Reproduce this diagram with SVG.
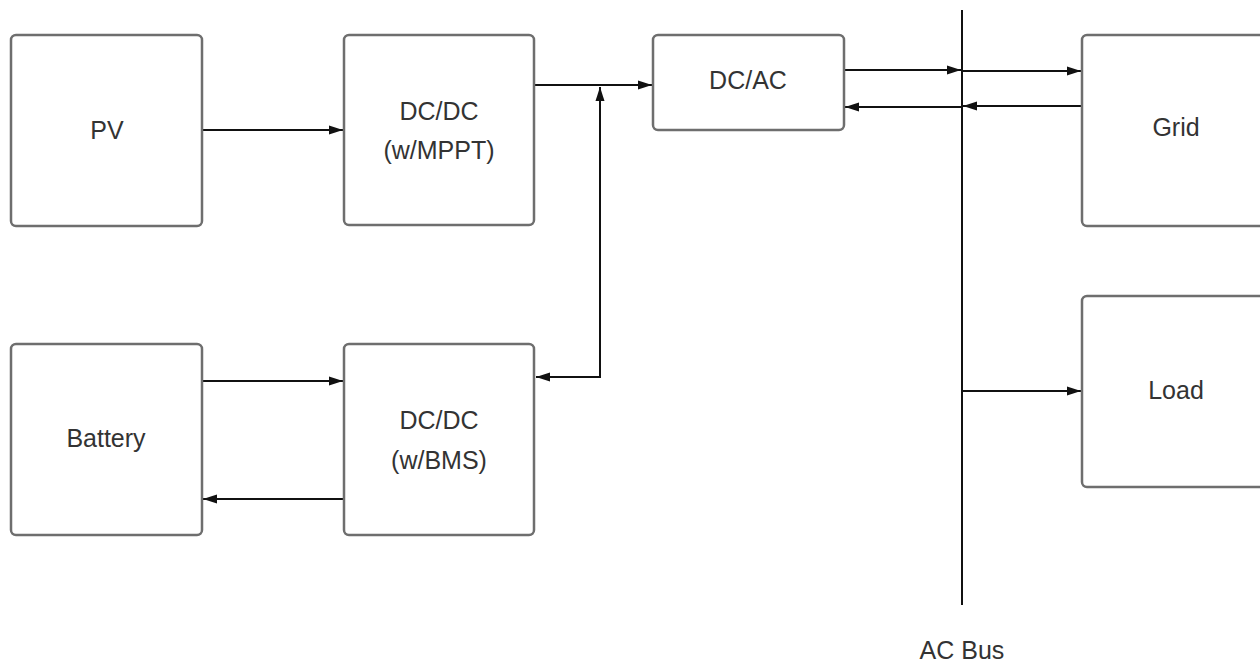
<svg xmlns="http://www.w3.org/2000/svg" width="1260" height="665" viewBox="0 0 1260 665">
<style>
.box{fill:#fff;stroke:#6e6e6e;stroke-width:2.5}
.lbl{font-family:"Liberation Sans",Arial,sans-serif;font-size:25px;fill:#333;text-anchor:middle}
.con{fill:none;stroke:#111;stroke-width:2}
</style>
<defs>
<marker id="ah" viewBox="0 0 14 10" refX="14" refY="5" markerWidth="14" markerHeight="10" markerUnits="userSpaceOnUse" orient="auto-start-reverse">
<path d="M0,0.5 L14,5 L0,9.5 z" fill="#111"/>
</marker>
</defs>
<rect width="1260" height="665" fill="#fff"/>
<g id="connectors">
<line class="con" x1="202" y1="130" x2="343" y2="130" marker-end="url(#ah)"/>
<line class="con" x1="535" y1="85" x2="652" y2="85" marker-end="url(#ah)"/>
<polyline class="con" points="536,377 600,377 600,87" marker-start="url(#ah)" marker-end="url(#ah)"/>
<line class="con" x1="845" y1="70" x2="961" y2="70" marker-end="url(#ah)"/>
<line class="con" x1="962" y1="71" x2="1081" y2="71" marker-end="url(#ah)"/>
<line class="con" x1="1082" y1="106" x2="963" y2="106" marker-end="url(#ah)"/>
<line class="con" x1="962" y1="107" x2="845" y2="107" marker-end="url(#ah)"/>
<line class="con" x1="202" y1="381" x2="343" y2="381" marker-end="url(#ah)"/>
<line class="con" x1="344" y1="499" x2="203" y2="499" marker-end="url(#ah)"/>
<line class="con" x1="962" y1="391" x2="1081" y2="391" marker-end="url(#ah)"/>
<line class="con" x1="962" y1="10" x2="962" y2="605"/>
</g>
<g id="pv"><rect class="box" x="11" y="35" width="191" height="191" rx="5"/><text class="lbl" x="107" y="139">PV</text></g>
<g id="dcdc-mppt"><rect class="box" x="344" y="35" width="190" height="190" rx="5"/><text class="lbl" x="439" y="120">DC/DC</text><text class="lbl" x="439" y="159">(w/MPPT)</text></g>
<g id="dcac"><rect class="box" x="653" y="35" width="191" height="95" rx="5"/><text class="lbl" x="748" y="89">DC/AC</text></g>
<g id="grid"><rect class="box" x="1082" y="35" width="200" height="191" rx="5"/><text class="lbl" x="1176" y="136">Grid</text></g>
<g id="load"><rect class="box" x="1082" y="296" width="200" height="191" rx="5"/><text class="lbl" x="1176" y="399">Load</text></g>
<g id="battery"><rect class="box" x="11" y="344" width="191" height="191" rx="5"/><text class="lbl" x="106" y="447">Battery</text></g>
<g id="dcdc-bms"><rect class="box" x="344" y="344" width="190" height="191" rx="5"/><text class="lbl" x="439" y="429">DC/DC</text><text class="lbl" x="439" y="469">(w/BMS)</text></g>
<g id="acbus"><text class="lbl" x="962" y="659">AC Bus</text></g>
</svg>
